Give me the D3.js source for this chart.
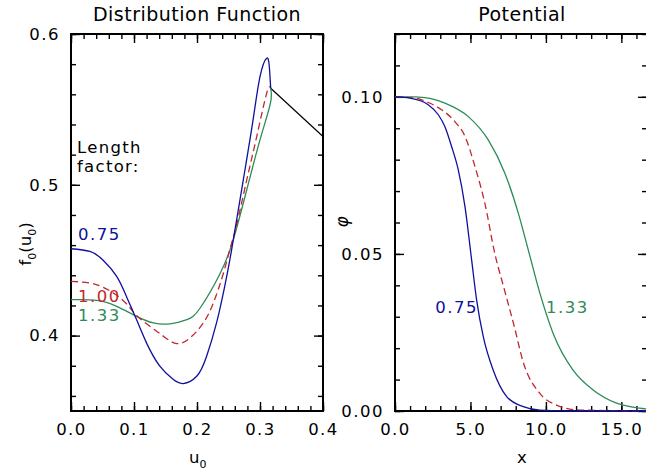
<!DOCTYPE html>
<html>
<head>
<meta charset="utf-8">
<script src="https://cdn.jsdelivr.net/npm/d3@7"></script>
<style>
  body { margin: 0; background: #fff; }
  text { font-family: "DejaVu Sans", sans-serif; }
</style>
</head>
<body>
<svg id="chart" width="646" height="475"></svg>
<script>
// Distribution function f0(u0) for each length factor
const distU075 = [0, 0.03, 0.051, 0.0725, 0.088, 0.104, 0.120, 0.141, 0.162, 0.178, 0.1995, 0.215, 0.231, 0.244, 0.255, 0.2735, 0.289, 0.300, 0.3106, 0.3148, 0.317];
const distF075 = [0.4576, 0.4558, 0.450, 0.4393, 0.426, 0.4106, 0.395, 0.3797, 0.371, 0.3682, 0.373, 0.386, 0.4084, 0.4327, 0.457, 0.5033, 0.543, 0.5717, 0.5839, 0.5783, 0.564];

const distU100 = [0, 0.03, 0.051, 0.075, 0.094, 0.104, 0.125, 0.147, 0.168, 0.189, 0.21, 0.226, 0.242, 0.255, 0.263, 0.279, 0.2948, 0.3106, 0.317];
const distF100 = [0.436, 0.4349, 0.432, 0.426, 0.4183, 0.4133, 0.4062, 0.3995, 0.3947, 0.3985, 0.4084, 0.4217, 0.4415, 0.4614, 0.4735, 0.5033, 0.532, 0.5607, 0.564];

const distU133 = [0, 0.041, 0.0725, 0.104, 0.131, 0.157, 0.184, 0.205, 0.2365, 0.2576, 0.279, 0.300, 0.3165, 0.317];
const distF133 = [0.4238, 0.4234, 0.4194, 0.4128, 0.4084, 0.4078, 0.4106, 0.4183, 0.441, 0.4636, 0.4967, 0.5298, 0.554, 0.564];

// straight black segment beyond the cutoff
const tailU = [0.317, 0.4];
const tailF = [0.564, 0.532];

// Potential phi(x) for each length factor
const potX075 = [0, 1.0, 2.2, 2.87, 3.31, 3.75, 4.19, 4.64, 5.08, 5.41, 5.85, 6.51, 7.40, 8.5, 9.6, 12, 17];
const potP075 = [0.1, 0.0996, 0.0975, 0.0943, 0.0905, 0.0842, 0.0768, 0.065, 0.048, 0.0353, 0.0237, 0.013, 0.0046, 0.0014, 0.0003, 0, 0];

const potX100 = [0, 1.32, 2.2, 3.09, 3.97, 4.64, 5.30, 5.96, 6.62, 7.2, 7.9, 8.5, 9.6, 10.7, 12.25, 17];
const potP100 = [0.1, 0.0996, 0.0982, 0.0959, 0.0921, 0.0874, 0.0778, 0.066, 0.050, 0.0395, 0.027, 0.0155, 0.0056, 0.0019, 0.0003, 0];

const potX133 = [0, 1.32, 3.31, 4.86, 6.18, 7.28, 8.17, 8.83, 9.6, 10.48, 11.8, 13.13, 14.68, 16.2, 17];
const potP133 = [0.1, 0.1, 0.098, 0.0937, 0.0863, 0.0757, 0.063, 0.0513, 0.0375, 0.0247, 0.013, 0.0067, 0.0025, 0.0009, 0.0005];

const factorLabels = ["0.75", "1.00", "1.33"];
const colors = ["#10109c", "#c0282d", "#2e8b57"];

const leftTicksX = [0, 0.1, 0.2, 0.3, 0.4];
const leftTicksY = [0.4, 0.5, 0.6];
const rightTicksX = [0, 5, 10, 15];
const rightTicksY = [0, 0.05, 0.10];

const svg = d3.select("#chart");
svg.append("rect").attr("width", 646).attr("height", 475).attr("fill", "#fff");

// panel boxes
const left = { x0: 71, x1: 323, y0: 34, y1: 411 };
const right = { x0: 395, x1: 647, y0: 34, y1: 411 };

const xL = d3.scaleLinear().domain([0, 0.4]).range([left.x0, left.x1]);
const yL = d3.scaleLinear().domain([0.35, 0.6]).range([left.y1, left.y0]);
const xR = d3.scaleLinear().domain([0, 16.7]).range([right.x0, right.x1]);
const yR = d3.scaleLinear().domain([0, 0.12]).range([right.y1, right.y0]);

const labelStyle = sel => sel.selectAll("text")
  .style("font-size", "16.5px")
  .style("letter-spacing", "1.5px")
  .attr("fill", "#000");

function drawAxes(box, x, y, xMajor, xMinor, yMajor, yMinor, fx, fy) {
  const g = svg.append("g");
  const strip = a => { a.select(".domain").remove(); a.selectAll("line").attr("stroke-width", 1.4); };

  // bottom
  g.append("g").attr("transform", `translate(0,${box.y1})`)
    .call(d3.axisBottom(x).tickValues(xMinor).tickSize(-5).tickFormat("")).call(strip);
  g.append("g").attr("transform", `translate(0,${box.y1})`)
    .call(d3.axisBottom(x).tickValues(xMajor).tickSize(-9).tickPadding(12).tickFormat(fx))
    .call(strip).call(labelStyle);
  // top
  g.append("g").attr("transform", `translate(0,${box.y0})`)
    .call(d3.axisTop(x).tickValues(xMinor).tickSize(-5).tickFormat("")).call(strip);
  g.append("g").attr("transform", `translate(0,${box.y0})`)
    .call(d3.axisTop(x).tickValues(xMajor).tickSize(-9).tickFormat("")).call(strip);
  // left
  g.append("g").attr("transform", `translate(${box.x0},0)`)
    .call(d3.axisLeft(y).tickValues(yMinor).tickSize(-5).tickFormat("")).call(strip);
  g.append("g").attr("transform", `translate(${box.x0},0)`)
    .call(d3.axisLeft(y).tickValues(yMajor).tickSize(-9).tickPadding(11).tickFormat(fy))
    .call(strip).call(labelStyle);
  // right
  g.append("g").attr("transform", `translate(${box.x1},0)`)
    .call(d3.axisRight(y).tickValues(yMinor).tickSize(-5).tickFormat("")).call(strip);
  g.append("g").attr("transform", `translate(${box.x1},0)`)
    .call(d3.axisRight(y).tickValues(yMajor).tickSize(-9).tickFormat("")).call(strip);

  g.append("rect")
    .attr("x", box.x0).attr("y", box.y0)
    .attr("width", box.x1 - box.x0).attr("height", box.y1 - box.y0)
    .attr("fill", "none").attr("stroke", "#000").attr("stroke-width", 2);
}

drawAxes(left, xL, yL, leftTicksX, d3.range(0, 0.401, 0.02), leftTicksY, d3.range(0.36, 0.601, 0.02),
  d3.format(".1f"), d3.format(".1f"));
drawAxes(right, xR, yR, rightTicksX, d3.range(0, 17, 1), rightTicksY, d3.range(0, 0.121, 0.01),
  d3.format(".1f"), d3.format(".2f"));

// curves
const lineL = d3.line().x(d => xL(d[0])).y(d => yL(d[1])).curve(d3.curveNatural);
const lineR = d3.line().x(d => xR(d[0])).y(d => yR(d[1])).curve(d3.curveMonotoneX);

const distSeries = [d3.zip(distU075, distF075), d3.zip(distU100, distF100), d3.zip(distU133, distF133)];
const potSeries = [d3.zip(potX075, potP075), d3.zip(potX100, potP100), d3.zip(potX133, potP133)];

svg.append("path").datum(d3.zip(tailU, tailF))
  .attr("d", d3.line().x(d => xL(d[0])).y(d => yL(d[1])))
  .attr("fill", "none").attr("stroke", "#000").attr("stroke-width", 1.2);

[2, 1, 0].forEach(i => {
  svg.append("path").datum(distSeries[i])
    .attr("d", lineL)
    .attr("fill", "none").attr("stroke", colors[i]).attr("stroke-width", 1.3)
    .attr("stroke-dasharray", i === 1 ? "7,4" : null);
  svg.append("path").datum(potSeries[i])
    .attr("d", lineR)
    .attr("fill", "none").attr("stroke", colors[i]).attr("stroke-width", 1.3)
    .attr("stroke-dasharray", i === 1 ? "7,4" : null);
});

// titles
const txt = (x, y, s, size, ls) => svg.append("text")
  .attr("x", x).attr("y", y).text(s)
  .style("font-size", size + "px").style("letter-spacing", ls + "px");

txt((left.x0 + left.x1) / 2, 21, "Distribution Function", 19, 0.5).attr("text-anchor", "middle");
txt(522, 21, "Potential", 19, 0.5).attr("text-anchor", "middle");

// in-plot labels
txt(77, 153, "Length", 16.5, 1.3);
txt(77, 172, "factor:", 16.5, 1.3);
txt(78, 240, factorLabels[0], 16.5, 1.5).attr("fill", colors[0]);
txt(78, 302, factorLabels[1], 16.5, 1.5).attr("fill", colors[1]);
txt(78, 321, factorLabels[2], 16.5, 1.5).attr("fill", colors[2]);
txt(478, 313, factorLabels[0], 16.5, 1.5).attr("fill", colors[0]).attr("text-anchor", "end");
txt(546, 313, factorLabels[2], 16.5, 1.5).attr("fill", colors[2]);

// axis titles
const uLab = txt(189, 463, "u", 16.5, 0);
uLab.append("tspan").attr("dy", 5).style("font-size", "11px").text("0");
txt(522, 463, "x", 16.5, 0).attr("text-anchor", "middle");

const fLab = svg.append("text")
  .attr("transform", "translate(31,244) rotate(-90)")
  .attr("text-anchor", "middle")
  .style("font-size", "16.5px");
fLab.append("tspan").text("f");
fLab.append("tspan").attr("dy", 5).style("font-size", "11px").text("0");
fLab.append("tspan").attr("dy", -5).text("(u");
fLab.append("tspan").attr("dy", 5).style("font-size", "11px").text("0");
fLab.append("tspan").attr("dy", -5).text(")");

svg.append("text")
  .attr("transform", "translate(348,222) rotate(-90)")
  .attr("text-anchor", "middle")
  .style("font-size", "17px").style("font-style", "italic")
  .text("φ");
</script>
</body>
</html>
